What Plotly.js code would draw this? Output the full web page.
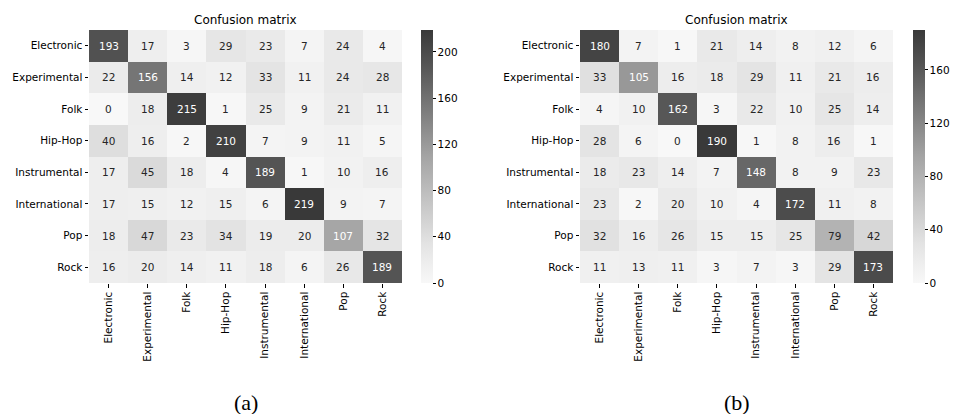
<!DOCTYPE html>
<html><head><meta charset="utf-8">
<script src="https://cdn.plot.ly/plotly-3.0.1.min.js"></script>
<style>body{margin:0;background:#fff}#c{width:953px;height:414px}</style>
</head><body><div id="c"></div>
<script>
const labels = ["Electronic","Experimental","Folk","Hip-Hop","Instrumental","International","Pop","Rock"];
const matrixA = [
  [193,17,3,29,23,7,24,4],
  [22,156,14,12,33,11,24,28],
  [0,18,215,1,25,9,21,11],
  [40,16,2,210,7,9,11,5],
  [17,45,18,4,189,1,10,16],
  [17,15,12,15,6,219,9,7],
  [18,47,23,34,19,20,107,32],
  [16,20,14,11,18,6,26,189]
];
const matrixB = [
  [180,7,1,21,14,8,12,6],
  [33,105,16,18,29,11,21,16],
  [4,10,162,3,22,10,25,14],
  [28,6,0,190,1,8,16,1],
  [18,23,14,7,148,8,9,23],
  [23,2,20,10,4,172,11,8],
  [32,16,26,15,15,25,79,42],
  [11,13,11,3,7,3,29,173]
];
const ticksA = [0,40,80,120,160,200];
const ticksB = [0,40,80,120,160];
const titleText = "Confusion matrix";
const captions = ["(a)","(b)"];

const cs = [[0,'#f8f8f8'],[0.15,'#e4e4e4'],[0.5,'#a4a4a4'],[0.86,'#555555'],[1,'#393939']];
const font = "DejaVu Sans, sans-serif";
const fs = 10.5;

function zmaxOf(m){return Math.max(...m.flat());}
function minOf(m){return Math.min(...m.flat());}

function trace(m, xa, ya, cbx, ticks){
  return {
    type:'heatmap', z:m, x:labels, y:labels, xaxis:xa, yaxis:ya,
    colorscale:cs, zmin:minOf(m), zmax:zmaxOf(m), xgap:0, ygap:0,
    hoverinfo:'skip',
    colorbar:{x:cbx, xanchor:'left', xref:'paper', y:1-30/414, yanchor:'top', yref:'paper',
      len:253/414, lenmode:'fraction', thickness:12, outlinewidth:0,
      tickmode:'array', tickvals:ticks, ticks:'outside', ticklen:3, tickwidth:1, tickcolor:'#000',
      tickfont:{family:font,size:fs,color:'#000'}, xpad:0, ypad:0}
  };
}

function cellAnn(m, xr, yr){
  const out=[]; const mx=zmaxOf(m);
  m.forEach((row,i)=>row.forEach((v,j)=>{
    out.push({x:labels[j], y:labels[i], xref:xr, yref:yr, text:String(v), showarrow:false,
      xanchor:'center', yanchor:'middle',
      font:{family:font,size:fs,color: v/mx>0.46 ? '#ffffff' : '#262626'}});
  }));
  return out;
}

const ydom=[1-283/414, 1-30/414];
function xax(dom){return {domain:dom, showgrid:false, zeroline:false, ticks:'outside', ticklen:3.5, tickcolor:'#000',
  tickangle:-90, tickfont:{family:font,size:fs,color:'#000'}, showline:false, fixedrange:true};}
function yax(anchor){return {domain:ydom, anchor:anchor, autorange:'reversed', showgrid:false, zeroline:false, ticks:'outside', ticklen:3.5,
  tickcolor:'#000', tickfont:{family:font,size:fs,color:'#000'}, showline:false, fixedrange:true};}

const xdA=[89/953, 402/953], xdB=[580/953, 893/953];
function paperText(x, y, text, f){
  return {x:x, y:y, xref:'paper', yref:'paper', text:text, showarrow:false, xanchor:'center', yanchor:'middle', font:f};
}
const titleFont = {family:font,size:12,color:'#000'};
const capFont = {family:'Liberation Serif, Times New Roman, serif',size:22,color:'#000'};
const layout = {
  width:953, height:414, margin:{l:0,r:0,t:0,b:0}, paper_bgcolor:'#fff', plot_bgcolor:'#fff',
  showlegend:false,
  xaxis:Object.assign(xax(xdA),{anchor:'y'}), yaxis:yax('x'),
  xaxis2:Object.assign(xax(xdB),{anchor:'y2'}), yaxis2:yax('x2'),
  annotations: [
    ...cellAnn(matrixA,'x','y'), ...cellAnn(matrixB,'x2','y2'),
    paperText((xdA[0]+xdA[1])/2, 1-20/414, titleText, titleFont),
    paperText((xdB[0]+xdB[1])/2, 1-20/414, titleText, titleFont),
    paperText((xdA[0]+xdA[1])/2, 1-402/414, captions[0], capFont),
    paperText((xdB[0]+xdB[1])/2, 1-402/414, captions[1], capFont)
  ]
};
Plotly.newPlot('c',[trace(matrixA,'x','y',421/953,ticksA), trace(matrixB,'x2','y2',913/953,ticksB)],layout,{displayModeBar:false,staticPlot:true});
</script></body></html>
